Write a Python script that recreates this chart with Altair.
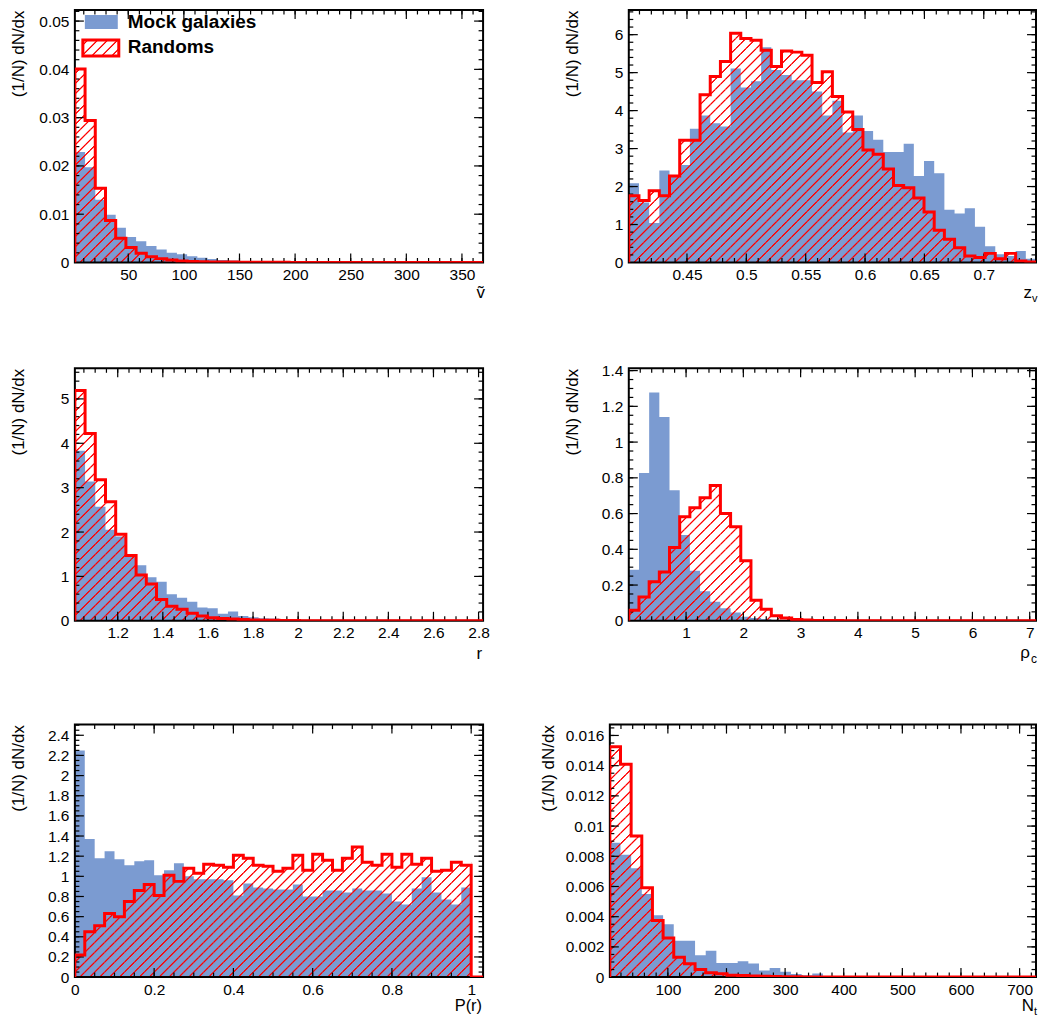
import altair as alt
import numpy as np
import pandas as pd

FONT = "Liberation Sans"
BLUE = "#7b9bd1"
RED = "#ff0000"
CLEAR = "rgba(255,0,0,0)"
YTITLE = "(1/N) dN/dx"

# ---------------- data ----------------
# panel 1 : v~
p1_range = (2.0, 369.0)
p1_mock = [0.0229, 0.0197, 0.0130, 0.0099, 0.0072, 0.0053, 0.0044, 0.0034, 0.0027, 0.0020,
           0.0017, 0.0013, 0.0010, 0.0007, 0.0005, 0.0004, 0.0003, 0.0002, 0.00015, 0.0001,
           0.00008, 0.00006, 0.00005, 0.00004, 0.00003, 0.00002, 0.00002, 0.00001, 0.00001, 0,
           0, 0, 0, 0, 0, 0, 0, 0, 0, 0]
p1_rand = [0.0401, 0.0294, 0.0154, 0.0087, 0.0050, 0.0031, 0.0019, 0.0012, 0.0008, 0.0005,
           0.0003, 0.0002, 0.00015, 0.0001, 0.0001, 0.00008, 0.00006, 0.00005, 0.00004, 0.00003,
           0.00003, 0.00002, 0.00002, 0.00002, 0.00001, 0.00001, 0.00001, 0.00001, 0, 0,
           0, 0, 0, 0, 0, 0, 0, 0, 0, 0]
p1_xdom, p1_ydom = [2.0, 369.0], [0.0, 0.0523]
p1_xticks = [50, 100, 150, 200, 250, 300, 350]
p1_yticks = [0, 0.01, 0.02, 0.03, 0.04, 0.05]

# panel 2 : z_v
p2_range = (0.401, 0.744)
p2_mock = [2.09, 1.58, 1.04, 2.42, 2.28, 2.57, 3.52, 3.87, 3.67, 3.58,
           5.11, 4.61, 4.77, 5.67, 5.07, 4.94, 4.80, 4.80, 4.50, 3.87,
           4.26, 3.42, 3.87, 3.46, 3.23, 2.91, 2.91, 3.13, 2.28, 2.67,
           2.35, 1.39, 1.29, 1.43, 0.94, 0.43, 0.22, 0.17, 0.30, 0.10]
p2_rand = [1.76, 1.63, 1.89, 1.76, 2.28, 3.22, 3.22, 4.42, 4.90, 5.29,
           6.04, 5.90, 5.85, 5.59, 5.16, 5.57, 5.54, 5.46, 4.74, 5.02,
           4.37, 3.96, 3.50, 2.96, 2.85, 2.46, 2.03, 1.97, 1.70, 1.33,
           0.85, 0.61, 0.39, 0.17, 0.13, 0.24, 0.10, 0.24, 0.04, 0.01]
p2_xdom, p2_ydom = [0.401, 0.744], [0.0, 6.65]
p2_xticks = [0.45, 0.5, 0.55, 0.6, 0.65, 0.7]
p2_yticks = [0, 1, 2, 3, 4, 5, 6]

# panel 3 : r
p3_range = (1.01, 2.82)
p3_mock = [3.83, 3.14, 2.57, 2.05, 1.90, 1.45, 1.25, 0.98, 0.88, 0.60,
           0.52, 0.43, 0.30, 0.28, 0.16, 0.21, 0.11, 0.08, 0.06, 0.05,
           0.04, 0.03, 0.02, 0.015, 0.01, 0.008, 0.005, 0.003, 0.002, 0.001,
           0, 0, 0, 0, 0, 0, 0, 0, 0, 0]
p3_rand = [5.19, 4.22, 3.18, 2.68, 1.95, 1.47, 1.03, 0.83, 0.48, 0.33,
           0.26, 0.17, 0.11, 0.07, 0.05, 0.04, 0.03, 0.02, 0.015, 0.01,
           0.008, 0.005, 0.003, 0.002, 0.001, 0.001, 0, 0, 0, 0,
           0, 0, 0, 0, 0, 0, 0, 0, 0, 0]
p3_xdom, p3_ydom = [1.01, 2.82], [0.0, 5.69]
p3_xticks = [1.2, 1.4, 1.6, 1.8, 2, 2.2, 2.4, 2.6, 2.8]
p3_yticks = [0, 1, 2, 3, 4, 5]

# panel 4 : rho_c
p4_range = (0.0, 7.11)
p4_mock = [0.286, 0.827, 1.278, 1.14, 0.73, 0.48, 0.28, 0.166, 0.107, 0.07,
           0.046, 0.022, 0.015, 0.01, 0.006, 0.004, 0.003, 0.002, 0.001, 0.001,
           0, 0, 0, 0, 0, 0, 0, 0, 0, 0,
           0, 0, 0, 0, 0, 0, 0, 0, 0, 0]
p4_rand = [0.059, 0.133, 0.218, 0.273, 0.41, 0.582, 0.633, 0.689, 0.757, 0.60,
           0.526, 0.336, 0.115, 0.065, 0.028, 0.015, 0.007, 0.004, 0.002, 0.001,
           0.001, 0, 0, 0, 0, 0, 0, 0, 0, 0,
           0, 0, 0, 0, 0, 0, 0, 0, 0, 0]
p4_xdom, p4_ydom = [0.0, 7.11], [0.0, 1.413]
p4_xticks = [1, 2, 3, 4, 5, 6, 7]
p4_yticks = [0, 0.2, 0.4, 0.6, 0.8, 1, 1.2, 1.4]

# panel 5 : P(r)
p5_range = (0.0, 1.0)
p5_mock = [2.25, 1.37, 1.18, 1.25, 1.17, 1.11, 1.15, 1.16, 1.01, 1.06,
           1.13, 1.00, 0.97, 0.97, 0.97, 0.96, 0.81, 0.93, 0.89, 0.88,
           0.87, 0.87, 0.92, 0.80, 0.80, 0.86, 0.86, 0.84, 0.88, 0.86,
           0.86, 0.83, 0.75, 0.72, 0.88, 0.99, 0.84, 0.77, 0.72, 0.89]
p5_rand = [0.22, 0.45, 0.51, 0.63, 0.60, 0.75, 0.86, 0.92, 0.81, 1.01,
           0.95, 1.08, 1.03, 1.12, 1.11, 1.09, 1.21, 1.18, 1.11, 1.10,
           1.05, 1.08, 1.21, 1.06, 1.22, 1.16, 1.06, 1.18, 1.29, 1.14,
           1.11, 1.22, 1.09, 1.22, 1.12, 1.18, 1.05, 1.06, 1.14, 1.11]
p5_xdom, p5_ydom = [0.0, 1.03], [0.0, 2.506]
p5_xticks = [0, 0.2, 0.4, 0.6, 0.8, 1]
p5_yticks = [0, 0.2, 0.4, 0.6, 0.8, 1, 1.2, 1.4, 1.6, 1.8, 2, 2.2, 2.4]

# panel 6 : N_t
p6_range = (1.0, 728.0)
p6_mock = [0.0089, 0.0081, 0.0072, 0.0055, 0.0041, 0.0035, 0.0024, 0.0024, 0.00145, 0.00175,
           0.00094, 0.00094, 0.00105, 0.0009, 0.00044, 0.0006, 0.00035, 0.0002, 0.00013, 0.00024,
           0.00005, 0.00003, 0.00002, 0.00001, 0, 0, 0, 0, 0, 0,
           0, 0, 0, 0, 0, 0, 0, 0, 0, 0]
p6_rand = [0.01526, 0.0141, 0.00934, 0.00592, 0.00375, 0.00259, 0.00132, 0.00088, 0.0005, 0.00029,
           0.00022, 0.00013, 0.0001, 0.00007, 0.00005, 0.00004, 0.00003, 0.00002, 0.00001, 0.00001,
           0, 0, 0, 0, 0, 0, 0, 0, 0, 0,
           0, 0, 0, 0, 0, 0, 0, 0, 0, 0]
p6_xdom, p6_ydom = [1.0, 728.0], [0.0, 0.01672]
p6_xticks = [100, 200, 300, 400, 500, 600, 700]
p6_yticks = [0, 0.002, 0.004, 0.006, 0.008, 0.01, 0.012, 0.014, 0.016]


# ---------------- helpers ----------------
CORE, RAMP = 0.4, 1.4   # half-widths (in x+y pixel units) of the solid core and soft edge of a hatch line


def minor(lo, hi, step):
    k0 = int(np.ceil(lo / step - 1e-9))
    k1 = int(np.floor(hi / step + 1e-9))
    return [round(k * step, 10) for k in range(k0, k1 + 1) if lo < k * step < hi]


def stop(o, c):
    return alt.GradientStop(offset=float(min(1.0, max(0.0, o))), color=c)


def soft_line(centre, scale):
    return [stop((centre - RAMP) / scale, CLEAR), stop((centre - CORE) / scale, RED),
            stop((centre + CORE) / scale, RED), stop((centre + RAMP) / scale, CLEAR)]


def hatch(wb, hb, period=10.0):
    """diagonal '/' hatch for a box of wb x hb pixels (legend swatch)"""
    tot = wb + hb
    r = hb / wb
    s = (1 + r) / (1 + r * r)
    stops = [stop(0, CLEAR)]
    c = period * 0.5
    while c + RAMP < tot:
        stops += soft_line(c, tot)
        c += period
    stops.append(stop(1, CLEAR))
    return alt.LinearGradient(gradient="linear", stops=stops, x1=0, y1=0,
                              x2=float(s), y2=float(s * r))


def tile_hatch(bw):
    """one square tile (bw x bw px) carrying the '/' hatch, seamless when tiled"""
    stops = [stop(0, CLEAR)] + soft_line(0.5 * bw, 2 * bw) + soft_line(1.5 * bw, 2 * bw) + [stop(1, CLEAR)]
    return alt.LinearGradient(gradient="linear", stops=stops, x1=0, y1=0, x2=1, y2=1)


def panel(rng, mock, rand, xdom, ydom, xt, xstep, yt, ystep, W, H, E, titles,
          x_end=None, legend=False):
    xs = alt.Scale(domain=xdom, nice=False, zero=False)
    ys = alt.Scale(domain=ydom, nice=False, zero=False)
    n = len(mock)
    edges = np.linspace(rng[0], rng[1], n + 1)
    area_df = pd.DataFrame({"x": edges, "mock": mock + [mock[-1]], "rand": rand + [rand[-1]]})
    area_df["top"] = np.maximum(area_df["mock"], area_df["rand"])
    lx = [rng[0]] + list(edges) + [rng[1]]
    ly = [0.0] + rand + [rand[-1], 0.0]
    if x_end is not None:
        lx.append(x_end)
        ly.append(0.0)
    line_df = pd.DataFrame({"x": lx, "y": ly, "i": list(range(len(lx)))})

    # hatch tiles: square cells (one bin wide) stacked under the random histogram
    bw = (edges[1] - edges[0]) / (xdom[1] - xdom[0]) * W
    cell = bw / H * (ydom[1] - ydom[0])
    cx, cx2, cy, cy2 = [], [], [], []
    for i in range(n):
        k = 0
        while k * cell < rand[i] and k * cell < ydom[1]:
            cx.append(edges[i]); cx2.append(edges[i + 1])
            cy.append(k * cell); cy2.append((k + 1) * cell)
            k += 1
    cells = pd.DataFrame({"x": cx, "x2": cx2, "y": cy, "y2": cy2})

    xaxis = alt.Axis(values=xt, format="~r", title=None, ticks=False, domain=False, grid=False,
                     labelPadding=5, labelFont=FONT, labelFontSize=15.5, labelColor="black",
                     labelFlush=False, labelOverlap=False)
    yaxis = alt.Axis(values=yt, format="~r", title=YTITLE, ticks=False, domain=False, grid=False,
                     labelPadding=6, labelFont=FONT, labelFontSize=15.5, labelColor="black",
                     labelOverlap=False, minExtent=E, maxExtent=E, titlePadding=7,
                     titleAnchor="end", titleFont=FONT, titleFontSize=17,
                     titleFontWeight="normal", titleColor="black")

    def X(f):
        return alt.X(f, scale=xs, axis=xaxis)

    def Y(f):
        return alt.Y(f, scale=ys, axis=yaxis, stack=None)

    blue = alt.Chart(area_df).mark_area(color=BLUE, interpolate="step-after", clip=True,
                                        opacity=1).encode(x=X("x:Q"), y=Y("mock:Q"))
    hatch_cells = alt.Chart(cells).mark_rect(fill=tile_hatch(bw), clip=True, strokeWidth=0).encode(
        x=X("x:Q"), x2="x2:Q", y=Y("y:Q"), y2="y2:Q")
    mask = alt.Chart(area_df).mark_area(color="white", interpolate="step-after", clip=True,
                                        opacity=1).encode(x=X("x:Q"), y=Y("rand:Q"), y2=alt.value(0))
    blue_top = alt.Chart(area_df).mark_area(color=BLUE, interpolate="step-after", clip=True,
                                            opacity=1).encode(x=X("x:Q"), y=Y("top:Q"), y2="rand:Q")
    red_line = alt.Chart(line_df).mark_line(color=RED, strokeWidth=3, interpolate="step-after",
                                            clip=True, strokeJoin="miter").encode(
        x=X("x:Q"), y=Y("y:Q"), order=alt.Order("i:Q"))
    layers = [blue, hatch_cells, mask, blue_top]

    xt_in = [v for v in xt if xdom[0] < v < xdom[1]]
    yt_in = [v for v in yt if ydom[0] < v < ydom[1]]
    xmin = minor(xdom[0], xdom[1], xstep)
    ymin = minor(ydom[0], ydom[1], ystep)

    def yrule(vals, a, b):
        return alt.Chart(pd.DataFrame({"v": vals})).mark_rule(color="black", strokeWidth=1.2).encode(
            y=Y("v:Q"), x=alt.value(a), x2=alt.value(b))

    def xrule(vals, a, b):
        return alt.Chart(pd.DataFrame({"v": vals})).mark_rule(color="black", strokeWidth=1.2).encode(
            x=X("v:Q"), y=alt.value(a), y2=alt.value(b))

    layers += [yrule(yt_in, 0, 9), yrule(ymin, 0, 4.5), yrule(yt_in, W - 9, W), yrule(ymin, W - 4.5, W),
               xrule(xt_in, H, H - 9), xrule(xmin, H, H - 4.5), xrule(xt_in, 0, 9), xrule(xmin, 0, 4.5)]

    dummy = pd.DataFrame({"a": [0]})
    # frame
    layers.append(alt.Chart(dummy).mark_rect(filled=False, stroke="black", strokeWidth=2).encode(
        x=alt.value(0), x2=alt.value(W), y=alt.value(0), y2=alt.value(H)))
    layers.append(red_line)

    for (txt, tx, ty, size, align) in titles:
        layers.append(alt.Chart(dummy).mark_text(text=txt, align=align, baseline="alphabetic",
                                                 font=FONT, fontSize=size, color="black").encode(
            x=alt.value(tx), y=alt.value(ty)))

    if legend:
        layers.append(alt.Chart(dummy).mark_rect(color=BLUE).encode(
            x=alt.value(10), x2=alt.value(43), y=alt.value(5), y2=alt.value(19)))
        layers.append(alt.Chart(dummy).mark_rect(fill=hatch(36, 16), stroke=RED, strokeWidth=3).encode(
            x=alt.value(8), x2=alt.value(44), y=alt.value(30), y2=alt.value(46)))
        for txt, ty in [("Mock galaxies", 18), ("Randoms", 43)]:
            layers.append(alt.Chart(dummy).mark_text(text=txt, align="left", baseline="alphabetic",
                                                     font=FONT, fontSize=19, fontWeight="bold",
                                                     color="black").encode(
                x=alt.value(53), y=alt.value(ty)))

    return alt.layer(*layers).properties(width=W, height=H)


H = 253
WL, WR, W6 = 409, 408, 427

p1 = panel(p1_range, p1_mock, p1_rand, p1_xdom, p1_ydom, p1_xticks, 10, p1_yticks, 0.002,
           WL, H, 40, [("ṽ", WL + 2, H + 36, 17, "right")], legend=True)
p2 = panel(p2_range, p2_mock, p2_rand, p2_xdom, p2_ydom, p2_xticks, 0.01, p2_yticks, 0.2,
           WR, H, 40, [("z", WR - 4, H + 36, 17, "right"), ("v", WR - 4, H + 40, 11, "left")])
p3 = panel(p3_range, p3_mock, p3_rand, p3_xdom, p3_ydom, p3_xticks, 0.05, p3_yticks, 0.2,
           WL, H, 40, [("r", WL - 1, H + 38, 17, "right")])
p4 = panel(p4_range, p4_mock, p4_rand, p4_xdom, p4_ydom, p4_xticks, 0.2, p4_yticks, 0.05,
           WR, H, 40, [("ρ", WR - 6, H + 37, 17, "right"), ("c", WR - 5, H + 42, 12, "left")])
p5 = panel(p5_range, p5_mock, p5_rand, p5_xdom, p5_ydom, p5_xticks, 0.05, p5_yticks, 0.05,
           WL, H, 40, [("P(r)", WL - 1, H + 34, 16.5, "right")], x_end=1.03)
p6 = panel(p6_range, p6_mock, p6_rand, p6_xdom, p6_ydom, p6_xticks, 20, p6_yticks, 0.0005,
           W6, H, 45, [("N", W6 - 2, H + 34, 17, "right"), ("t", W6 - 2, H + 38, 11, "left")])

row1 = alt.hconcat(p1, p2, spacing=146, bounds="flush")
row2 = alt.hconcat(p3, p4, spacing=146, bounds="flush")
row3 = alt.hconcat(p5, p6, spacing=127, bounds="flush")

chart = alt.vconcat(row1, row2, row3, spacing=59).properties(
    padding={"left": 2, "top": 0, "right": 0, "bottom": 0}
).configure_view(strokeWidth=0)

chart.save("out.html", embed_options={"renderer": "svg", "actions": False})
